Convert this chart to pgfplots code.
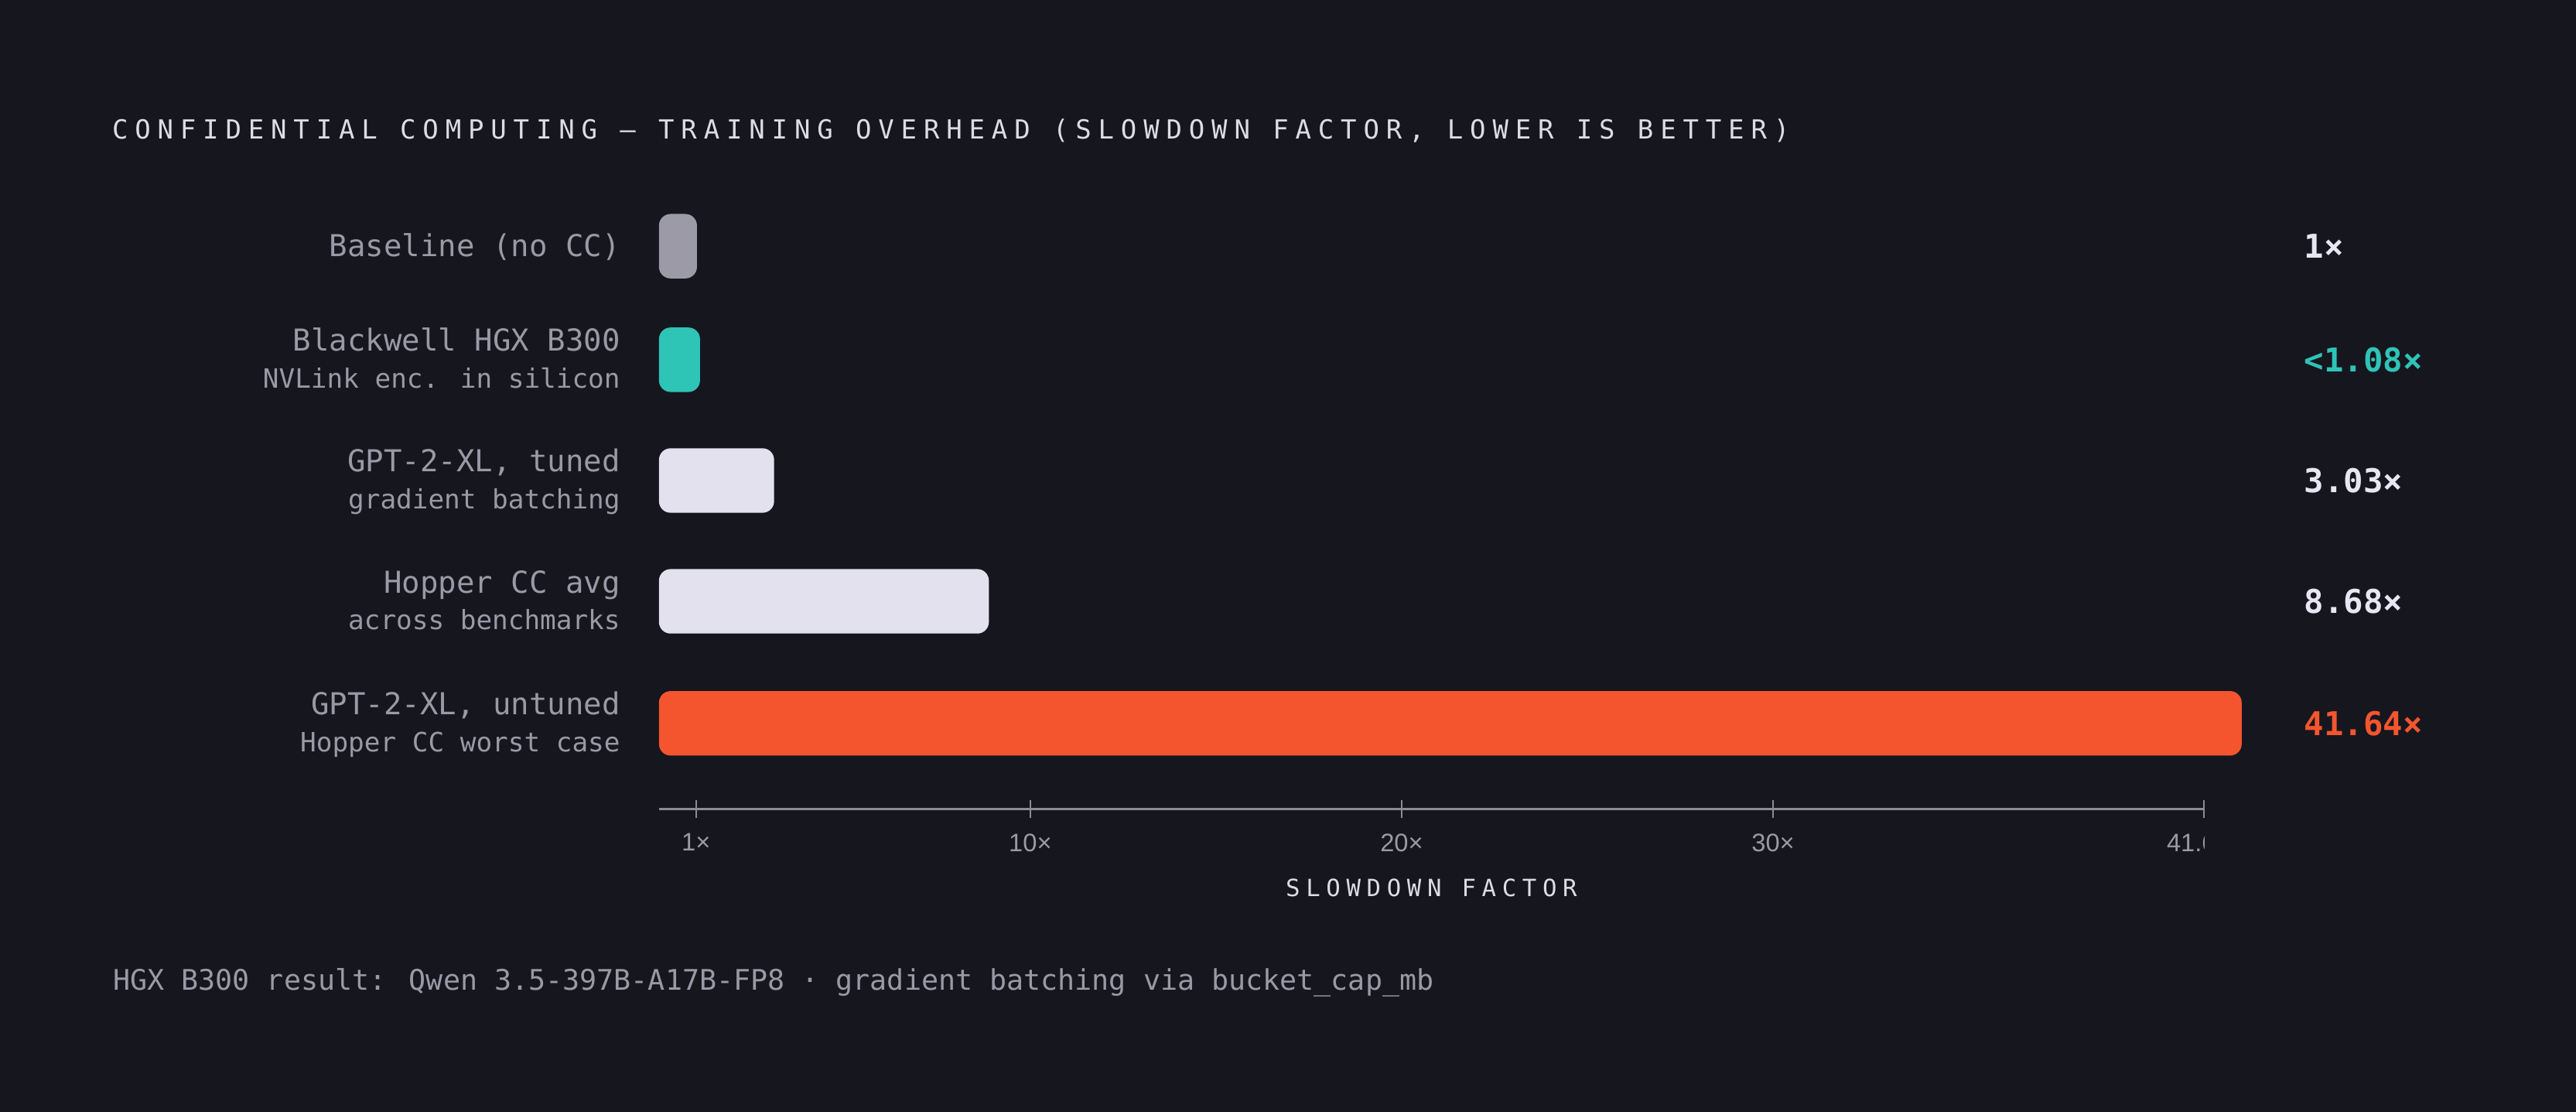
\documentclass[border=0pt]{standalone}
\usepackage{fontspec}
\usepackage{pgfplots}
\pgfplotsset{compat=1.18}

\setmainfont{DejaVu Sans Mono}
\newfontfamily\titlefont[LetterSpace=26]{DejaVu Sans Mono}
\newfontfamily\capfont[LetterSpace=25]{DejaVu Sans Mono}
\newfontfamily\tickfont{Liberation Sans}

\definecolor{bg}{HTML}{16161E}
\definecolor{cgrey}{HTML}{9B9AA6}
\definecolor{cteal}{HTML}{2EC4B6}
\definecolor{clight}{HTML}{E3E1EE}
\definecolor{corange}{HTML}{F4552F}
\definecolor{lbl}{HTML}{9A99A6}
\definecolor{ttl}{HTML}{DCDCE6}
\definecolor{val}{HTML}{E8E6F2}
\definecolor{axc}{HTML}{8C8B96}

\newcommand\mainlbl[1]{{\fontsize{11.7}{14}\selectfont #1}}
\newcommand\sublbl[1]{{\fontsize{10.3}{12}\selectfont #1}}
\newcommand\one[1]{\llap{\raisebox{-4.14pt}{\mainlbl{#1}}}}
\newcommand\two[2]{\llap{\raisebox{3.3pt}{\mainlbl{#1}}}\llap{\raisebox{-11pt}{\sublbl{#2}}}}
\newcommand\valf{\fontsize{12.7}{15}\selectfont\bfseries}
\newcommand\tickf{\tickfont\fontsize{9.8}{12}\selectfont}

\begin{document}
\begin{tikzpicture}
\fill[bg] (0,0) rectangle (999pt,-431.1pt);
\useasboundingbox (0,0) rectangle (999pt,-431.1pt);

\node[anchor=base west, inner sep=0pt, text=ttl, font=\titlefont\fontsize{10.2}{12}\selectfont]
  at (43.3pt,-53.9pt) {CONFIDENTIAL COMPUTING — TRAINING OVERHEAD (SLOWDOWN FACTOR, LOWER IS BETTER)};

% bars
\begin{axis}[
  at={(255.55pt,-72.03pt)}, anchor=north west,
  scale only axis, width=613.8pt, height=234.14pt,
  xmin=0, xmax=41.64, ymin=-0.5, ymax=4.5, y dir=reverse,
  xbar, bar width=25pt,
  axis line style={draw=none},
  xtick=\empty,
  ytick={0,0.94,1.94,2.94,3.95},
  yticklabels={
    {\one{Baseline (no CC)}},
    {\two{Blackwell HGX B300}{NVLink enc. in silicon}},
    {\two{GPT-2-XL, tuned}{gradient batching}},
    {\two{Hopper CC avg}{across benchmarks}},
    {\two{GPT-2-XL, untuned}{Hopper CC worst case}}},
  ytick style={draw=none},
  yticklabel style={anchor=base east, inner sep=0pt, xshift=-10.1pt, text=lbl},
  clip=false,
]
\addplot[fill=cgrey, draw=none, bar shift=0pt, rounded corners=4.5pt] coordinates {(1,0)};
\addplot[fill=cteal, draw=none, bar shift=0pt, rounded corners=4.5pt] coordinates {(1.08,0.94)};
\addplot[fill=clight, draw=none, bar shift=0pt, rounded corners=4.5pt] coordinates {(3.03,1.94)};
\addplot[fill=clight, draw=none, bar shift=0pt, rounded corners=4.5pt] coordinates {(8.68,2.94)};
\addplot[fill=corange, draw=none, bar shift=0pt, rounded corners=4.5pt] coordinates {(41.64,3.95)};

\node[anchor=west, inner sep=0pt, font=\valf, text=val] at (axis cs:43.27,0) {1×};
\node[anchor=west, inner sep=0pt, font=\valf, text=cteal] at (axis cs:43.27,0.94) {<1.08×};
\node[anchor=west, inner sep=0pt, font=\valf, text=val] at (axis cs:43.27,1.94) {3.03×};
\node[anchor=west, inner sep=0pt, font=\valf, text=val] at (axis cs:43.27,2.94) {8.68×};
\node[anchor=west, inner sep=0pt, font=\valf, text=corange] at (axis cs:43.27,3.95) {41.64×};
\end{axis}

% scale
\begin{axis}[
  at={(255.55pt,-313.72pt)}, anchor=south west,
  scale only axis, width=599.15pt, height=10pt,
  xmin=0, xmax=41.6, ymin=0, ymax=1,
  axis y line=none, axis x line*=bottom,
  x axis line style={draw=axc, line width=0.9pt},
  xtick={1,10,20,30,41.6},
  xticklabels={1×,10×,20×,30×,{}},
  tick align=center, major tick length=7pt,
  xtick style={draw=axc, line width=0.5pt},
  xticklabel style={font=\tickf, text=lbl, anchor=north, inner sep=0pt, yshift=-5.8pt},
  xlabel={\capfont\fontsize{9.2}{11}\selectfont SLOWDOWN FACTOR},
  xlabel style={at={(axis description cs:0.5,0)}, anchor=base, inner sep=0pt, yshift=-33.8pt, text=ttl},
  clip=false,
]
\begin{scope}
  \clip (axis cs:25,-10) rectangle (axis cs:41.6,1);
  \node[anchor=north, inner sep=0pt, font=\tickf, text=lbl, yshift=-9.3pt, xshift=-2pt] at (axis cs:41.6,0) {41.6×};
\end{scope}
\end{axis}

\node[anchor=base west, inner sep=0pt, text=lbl, font=\fontsize{11}{13}\selectfont]
  at (43.7pt,-383.8pt) {HGX B300 result: Qwen 3.5-397B-A17B-FP8 · gradient batching via bucket\_cap\_mb};
\end{tikzpicture}
\end{document}
